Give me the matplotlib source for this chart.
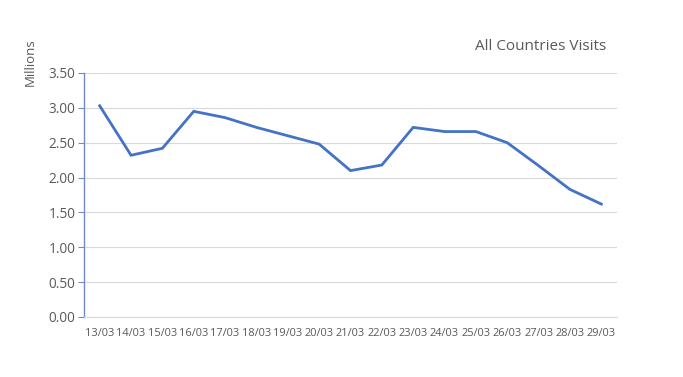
import matplotlib.pyplot as plt

dates = ['13/03', '14/03', '15/03', '16/03', '17/03', '18/03', '19/03', '20/03', '21/03',
         '22/03', '23/03', '24/03', '25/03', '26/03', '27/03', '28/03', '29/03']
visits = [3.03, 2.32, 2.42, 2.95, 2.86, 2.72, 2.60, 2.48, 2.10,
          2.18, 2.72, 2.66, 2.66, 2.50, 2.17, 1.83, 1.62]

plt.rcParams['font.family'] = ['Open Sans', 'DejaVu Sans']
text_color = '#595959'

fig = plt.figure(figsize=(6.83, 3.77), dpi=100)
ax = fig.add_axes([84 / 683, 1 - 317 / 377, (617 - 84) / 683, (317 - 73) / 377])

x = list(range(len(dates)))
ax.plot(x, visits, color='#4472C4', linewidth=2.0, solid_joinstyle='miter')

ax.set_xlim(-0.5, len(dates) - 0.5)
ax.set_ylim(0, 3.5)
ax.set_yticks([i * 0.5 for i in range(8)])
ax.set_yticklabels([f'{i * 0.5:.2f}' for i in range(8)], fontsize=9.8, color=text_color)
ax.set_xticks(x)
ax.set_xticklabels(dates, fontsize=7.9, color=text_color)

ax.grid(axis='y', color='#D9D9D9', linewidth=0.8)
ax.set_axisbelow(True)
for side in ['top', 'right']:
    ax.spines[side].set_visible(False)
ax.spines['left'].set_color('#6E8BC4')
ax.spines['left'].set_linewidth(1.0)
ax.spines['bottom'].set_color('#D9D9D9')
ax.tick_params(axis='y', length=4, color='#6E8BC4', pad=2)
ax.tick_params(axis='x', length=0, pad=8)

fig.text(30 / 683, 1 - 62 / 377, 'Millions', rotation=90, fontsize=9.5, color=text_color,
         ha='center', va='center')
fig.text(541 / 683, 1 - 47 / 377, 'All Countries Visits', fontsize=11, color=text_color,
         ha='center', va='center')

fig.savefig('out.png', dpi=100)
